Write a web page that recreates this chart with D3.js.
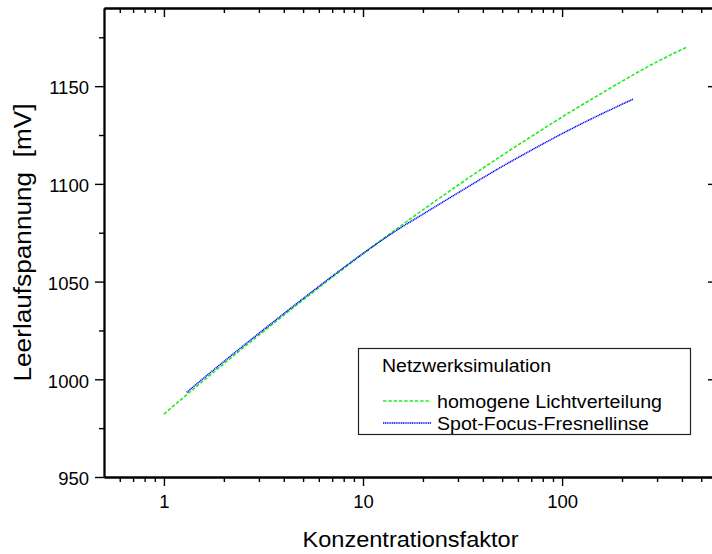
<!DOCTYPE html>
<html>
<head>
<meta charset="utf-8">
<script src="https://cdn.jsdelivr.net/npm/d3@7"></script>
<style>
  html, body { margin: 0; padding: 0; background: #fff; }
  svg { display: block; font-family: "Liberation Sans", Arial, sans-serif; }
</style>
</head>
<body>
<script>
// Konzentrationsfaktor values and open-circuit voltage in mV
const xHomogen = [1, 1.5, 2, 3, 5, 7, 10, 15, 20, 30, 50, 70, 100, 150, 200, 300, 420];
const yHomogen = [982.2, 997.4, 1008.0, 1022.6, 1040.6, 1052.2, 1064.2, 1077.5, 1086.7, 1099.3, 1114.6, 1124.2, 1134.2, 1145.0, 1152.5, 1162.5, 1169.8];

const xFresnel = [1.3, 1.5, 2, 3, 5, 7, 10, 15, 20, 30, 50, 70, 100, 150, 228];
const yFresnel = [993.3, 998.6, 1009.1, 1023.5, 1041.3, 1052.7, 1064.4, 1076.7, 1084.5, 1095.4, 1108.9, 1117.2, 1125.7, 1134.7, 1143.4];

const xMajor = [1, 10, 100];
const xMinor = [0.6, 0.7, 0.8, 0.9, 2, 3, 4, 5, 6, 7, 8, 9, 20, 30, 40, 50, 60, 70, 80, 90, 200, 300, 400, 500];
const yMajor = [950, 1000, 1050, 1100, 1150];
const yMinor = [975, 1025, 1075, 1125, 1175];

const legendTitle = "Netzwerksimulation";
const seriesNames = ["homogene Lichtverteilung", "Spot-Focus-Fresnellinse"];

function main() {
    const width = 712;
    const height = 554;
    const left = 104, right = 717, top = 8, bottom = 477;

    const x = d3.scaleLog().domain([0.5, 600]).range([left, right]);
    const y = d3.scaleLinear().domain([950, 1190]).range([bottom, top]);

    const svg = d3.select("body").append("svg")
        .attr("width", width)
        .attr("height", height);

    const axisStyle = g => {
        g.select(".domain").attr("stroke", "#000").attr("stroke-width", 1.8);
        g.selectAll(".tick line").attr("stroke", "#000").attr("stroke-width", 1.4);
        g.selectAll(".tick text").attr("fill", "#000").style("font-size", "18.5px");
    };

    // bottom axis
    svg.append("g")
        .attr("transform", `translate(0,${bottom})`)
        .call(d3.axisBottom(x).tickValues(xMinor).tickSize(5).tickSizeOuter(0).tickFormat(""))
        .call(axisStyle);
    svg.append("g")
        .attr("transform", `translate(0,${bottom})`)
        .call(d3.axisBottom(x).tickValues(xMajor).tickSize(9).tickSizeOuter(0).tickPadding(9).tickFormat(d3.format("d")))
        .call(axisStyle);

    // top axis, ticks inward
    svg.append("g")
        .attr("transform", `translate(0,${top})`)
        .call(d3.axisTop(x).tickValues(xMinor).tickSize(-5).tickSizeOuter(0).tickFormat(""))
        .call(axisStyle);
    svg.append("g")
        .attr("transform", `translate(0,${top})`)
        .call(d3.axisTop(x).tickValues(xMajor).tickSize(-9).tickSizeOuter(0).tickFormat(""))
        .call(axisStyle);

    // left axis
    svg.append("g")
        .attr("transform", `translate(${left},0)`)
        .call(d3.axisLeft(y).tickValues(yMinor).tickSize(5).tickSizeOuter(0).tickFormat(""))
        .call(axisStyle);
    const yAx = svg.append("g")
        .attr("transform", `translate(${left},0)`)
        .call(d3.axisLeft(y).tickValues(yMajor).tickSize(9).tickSizeOuter(0).tickPadding(6).tickFormat(d3.format("d")))
        .call(axisStyle);
    yAx.selectAll(".tick text").attr("dy", "0.42em");

    // right axis, ticks inward
    svg.append("g")
        .attr("transform", `translate(${right},0)`)
        .call(d3.axisRight(y).tickValues(yMinor).tickSize(-5).tickSizeOuter(0).tickFormat(""))
        .call(axisStyle);
    svg.append("g")
        .attr("transform", `translate(${right},0)`)
        .call(d3.axisRight(y).tickValues(yMajor).tickSize(-9).tickSizeOuter(0).tickFormat(""))
        .call(axisStyle);

    // axis titles
    svg.append("text")
        .attr("x", (left + right) / 2)
        .attr("y", 547)
        .attr("text-anchor", "middle")
        .attr("textLength", 216)
        .attr("lengthAdjust", "spacingAndGlyphs")
        .style("font-size", "22px")
        .text("Konzentrationsfaktor");

    svg.append("text")
        .attr("transform", `translate(31,${(top + bottom) / 2}) rotate(-90)`)
        .attr("text-anchor", "middle")
        .attr("textLength", 278)
        .attr("lengthAdjust", "spacingAndGlyphs")
        .style("font-size", "23px")
        .style("white-space", "pre")
        .text("Leerlaufspannung  [mV]");

    // curves
    const line = d3.line()
        .x(d => x(d[0]))
        .y(d => y(d[1]))
        .curve(d3.curveMonotoneX);

    const series = [
        { pts: d3.zip(xHomogen, yHomogen), color: "#22ee22", dash: "3.5,1.8", w: 1.6 },
        { pts: d3.zip(xFresnel, yFresnel), color: "#0000ff", dash: "1.2,0.6", w: 1.5 }
    ];

    svg.selectAll("path.curve")
        .data(series)
        .join("path")
        .attr("class", "curve")
        .attr("fill", "none")
        .attr("stroke", d => d.color)
        .attr("stroke-width", d => d.w)
        .attr("stroke-dasharray", d => d.dash)
        .attr("d", d => line(d.pts));

    // legend
    const lg = svg.append("g");
    lg.append("rect")
        .attr("x", 358.5).attr("y", 348.5)
        .attr("width", 332).attr("height", 86)
        .attr("fill", "#fff")
        .attr("stroke", "#222")
        .attr("stroke-width", 1.2);
    lg.append("text")
        .attr("x", 382).attr("y", 372)
        .attr("textLength", 169)
        .attr("lengthAdjust", "spacingAndGlyphs")
        .style("font-size", "17.5px")
        .text(legendTitle);

    const rowY = [401, 423];
    series.forEach((s, i) => {
        lg.append("line")
            .attr("x1", 383).attr("x2", 431)
            .attr("y1", rowY[i]).attr("y2", rowY[i])
            .attr("stroke", s.color)
            .attr("stroke-width", 1.3)
            .attr("stroke-dasharray", s.dash);
        lg.append("text")
            .attr("x", 437).attr("y", rowY[i] + 6.5)
            .attr("textLength", i === 0 ? 225 : 212)
            .attr("lengthAdjust", "spacingAndGlyphs")
            .style("font-size", "17.5px")
            .text(seriesNames[i]);
    });
}

addEventListener('DOMContentLoaded', main);
</script>
</body>
</html>
